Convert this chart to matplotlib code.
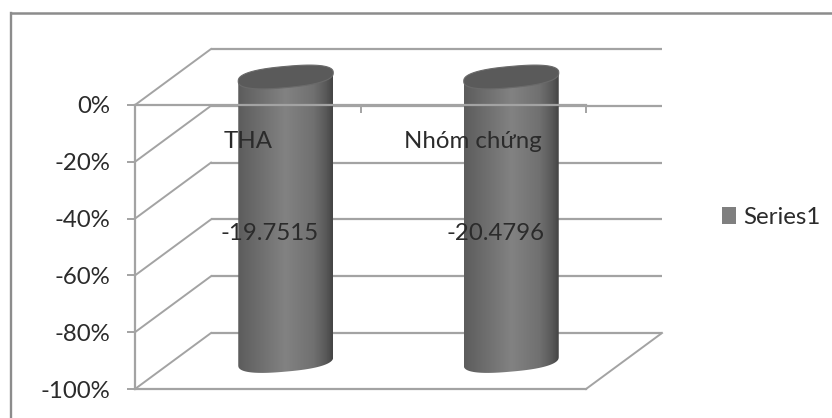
import numpy as np
import matplotlib
matplotlib.use("Agg")
import matplotlib.pyplot as plt
from matplotlib.lines import Line2D
from matplotlib.patches import Polygon, Patch
from matplotlib.colors import LinearSegmentedColormap
from matplotlib.ticker import FixedLocator, FixedFormatter, FuncFormatter

plt.rcParams['font.family'] = ['Lato', 'DejaVu Sans']

categories = ["THA", "Nhóm chứng"]
values = [-19.7515, -20.4796]
series_name = "Series1"
y_ticks = [0, -20, -40, -60, -80, -100]

W, H = 832, 418
GRID = "#a3a3a3"
TEXT = "#2b2b2b"
FS = 17.3

# Pixel geometry of the oblique projection
x0_px, x_end_px = 135, 586
y0_px, y100_px = 105, 389
sx = len(categories) / (x_end_px - x0_px)
sy = 100 / (y100_px - y0_px)
dx, dy = 76 * sx, 56 * sy          # depth offset in data units

fig = plt.figure(figsize=(W / 100, H / 100), dpi=100, facecolor="white")
ax = fig.add_axes([0, 0, 1, 1], facecolor="none")
xlim = (-x0_px * sx, (W - x0_px) * sx)
ylim = (-(H - y0_px) * sy, y0_px * sy)

# Chart frame: only the top and left edges fall inside the picture
frame_x, frame_y = 10.5 / W, 1 - 12.5 / H
fig.add_artist(Line2D([frame_x, 1], [frame_y, frame_y], transform=fig.transFigure, color="#8c8c8c", lw=1.8))
fig.add_artist(Line2D([frame_x, frame_x], [0, frame_y], transform=fig.transFigure, color="#8c8c8c", lw=1.7))

n = len(categories)
# Back wall + side wall + floor
for t in y_ticks:
    ax.plot([dx, n + dx], [t + dy, t + dy], color=GRID, lw=1.6, zorder=1, solid_capstyle="butt")
    ax.plot([0, dx], [t, t + dy], color=GRID, lw=1.4, zorder=1)
ax.plot([n, n + dx], [-100, -100 + dy], color=GRID, lw=1.4, zorder=1)


def rounded(a):
    """Slightly squared cosine/sine so the rim ends look round, as in the reference."""
    return np.sign(a) * np.abs(a) ** 0.8


# Percent-stacked cylinders: every single-series column fills the axis
percent = [100 * v / abs(v) for v in values]
half_w = 47.5 * sx
tilt = 4.2 * sy
minor = 10.6 * sy
cmap = LinearSegmentedColormap.from_list("cyl", [
    (0.00, "#5c5c5c"), (0.15, "#686868"), (0.50, "#828282"),
    (0.80, "#707070"), (0.93, "#585858"), (1.00, "#444444")])
for i, p in enumerate(percent):
    cx = i + 0.5 + dx / 2
    top_y = dy / 2
    bot_y = p + dy / 2
    t = np.linspace(0, 2 * np.pi, 181)
    ex = cx + half_w * rounded(np.cos(t))
    ey = tilt * rounded(np.cos(t)) + minor * rounded(np.sin(t))
    tb = np.linspace(0, np.pi, 91)
    bx = cx + half_w * rounded(np.cos(tb))
    by = bot_y + tilt * rounded(np.cos(tb)) - minor * rounded(np.sin(tb))
    body = np.column_stack([np.r_[bx, cx - half_w, cx + half_w],
                            np.r_[by, top_y - tilt, top_y + tilt]])
    im = ax.imshow(np.linspace(0, 1, 256)[None, :], cmap=cmap, aspect="auto", zorder=2,
                   extent=(cx - half_w, cx + half_w, bot_y - 2 * minor, top_y + 2 * minor),
                   interpolation="bilinear")
    im.set_clip_path(Polygon(body, closed=True, transform=ax.transData))
    ax.add_patch(Polygon(np.column_stack([ex, top_y + ey]), closed=True,
                         fc="#5a5a5a", ec="#6a6a6a", lw=0.8, zorder=3))

# Real axes placed on the front plane
ax.set_xlim(xlim)
ax.set_ylim(ylim)
for s in ("top", "right"):
    ax.spines[s].set_visible(False)
ax.spines["left"].set_position(("data", 0))
ax.spines["left"].set_bounds(-100, 0)
ax.spines["bottom"].set_position(("data", 0))
ax.spines["bottom"].set_bounds(0, n)
for s in ("left", "bottom"):
    ax.spines[s].set_color(GRID)
    ax.spines[s].set_linewidth(1.6)
    ax.spines[s].set_zorder(4)
ax.set_yticks(y_ticks)
ax.yaxis.set_major_formatter(FuncFormatter(lambda v, _: f"{int(v)}%"))
ax.tick_params(axis="y", length=6, width=1.4, color=GRID, labelsize=FS, labelcolor=TEXT, pad=11.5)
ax.xaxis.set_major_locator(FixedLocator(np.arange(1, n + 1)))
ax.xaxis.set_major_formatter(FixedFormatter([""] * n))
ax.xaxis.set_minor_locator(FixedLocator(np.arange(n) + 0.5))
ax.xaxis.set_minor_formatter(FixedFormatter(categories))
ax.tick_params(axis="x", which="major", length=6, width=1.4, color=GRID, direction="out")
ax.tick_params(axis="x", which="minor", length=0, labelsize=FS, labelcolor=TEXT, pad=18.5)
ax.xaxis.set_zorder(6)
ax.yaxis.set_zorder(6)

# Floor front edge
ax.plot([0, n], [-100, -100], color=GRID, lw=1.6, zorder=1)

# Data labels
for i, v in enumerate(values):
    ax.text(i + 0.5 + 22 * sx, -45.3, f"{v:.4f}", ha="center", va="center",
            fontsize=FS, color=TEXT, zorder=6)

# Legend
leg = ax.legend(handles=[Patch(fc="#7f7f7f", ec="none", label=series_name)],
                loc="center left", bbox_to_anchor=(722 / W, 1 - 217 / H),
                frameon=False, fontsize=FS, labelcolor=TEXT,
                handlelength=0.6, handleheight=0.7, handletextpad=0.3, borderpad=0, borderaxespad=0)

fig.savefig("out.png", dpi=100, facecolor="white")
